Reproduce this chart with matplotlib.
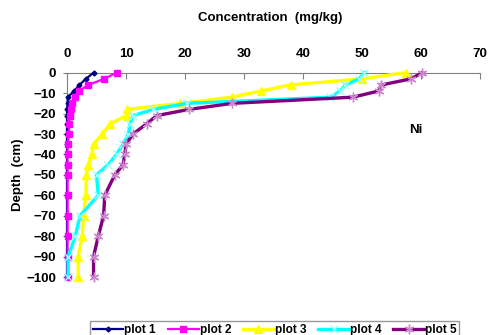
import matplotlib
matplotlib.use("Agg")
import matplotlib.pyplot as plt

plt.rcParams['font.family'] = ['Liberation Sans', 'DejaVu Sans']
plt.rcParams['font.weight'] = 'bold'

# depth below surface (cm)
depth = [0, -3, -6, -9, -12, -15, -18, -21, -25, -30, -35, -40, -45, -50,
         -60, -70, -80, -90, -100]

# Ni concentration (mg/kg) for each plot
plot1 = [4.5, 3.2, 2.1, 1.2, 0.1, 0.1, 0.0, 0.0, 0.0, 0.0, 0.0, 0.0, 0.0, 0.0,
         0.0, 0.0, 0.0, 0.0, 0.0]
plot2 = [8.4, 6.3, 3.6, 2.0, 1.3, 0.8, 0.6, 0.5, 0.4, 0.3, 0.1, 0.1, 0.1, 0.1,
         0.1, 0.1, 0.1, 0.1, 0.1]
plot3 = [57.4, 50.0, 37.9, 32.8, 27.9, 19.2, 10.1, 10.1, 7.3, 6.0, 4.5, 4.2, 3.6,
         3.3, 3.2, 2.8, 2.6, 1.9, 1.9]
plot4 = [50.4, 49.5, 47.2, 46.3, 44.6, 20.3, 14.6, 11.2, 10.7, 10.4, 9.5, 8.4,
         7.0, 5.0, 5.3, 2.2, 1.4, 0.2, 0.2]
plot5 = [60.2, 58.3, 53.3, 52.8, 48.4, 28.0, 20.6, 15.2, 13.5, 11.2, 10.0, 9.8,
         9.5, 8.1, 6.4, 6.2, 5.3, 4.5, 4.5]

labels = ['plot 1', 'plot 2', 'plot 3', 'plot 4', 'plot 5']
x_ticks = [0, 10, 20, 30, 40, 50, 60, 70]
y_ticks = [0, -10, -20, -30, -40, -50, -60, -70, -80, -90, -100]

fig = plt.figure(figsize=(4.88, 3.35), dpi=100)
ax = fig.add_axes([0.1373, 0.173, 0.8463, 0.61])

asterisk = (6, 2, 0)
styles = [
    dict(color='#000080', lw=1.6, marker='D', ms=2.5, mfc='#000080', mec='#000080'),
    dict(color='#FF00FF', lw=1.6, marker='s', ms=4.5, mfc='#FF00FF', mec='#FF00FF'),
    dict(color='#FFFF00', lw=2.4, marker='^', ms=6, mfc='#FFFF00', mec='#FFFF00'),
    dict(color='#00FFFF', lw=2.4, marker='x', ms=6, mfc='#99FFFF', mec='#99FFFF', mew=1),
    dict(color='#800080', lw=2.4, marker=asterisk, ms=7, mfc='#CC88CC', mec='#CC88CC', mew=1),
]
series = [plot1, plot2, plot3, plot4, plot5]
# plot 1 sits over plot 2 near the surface
order = [1, 0, 2, 3, 4]
handles = [None] * 5
for i in order:
    h, = ax.plot(series[i], depth, label=labels[i], clip_on=False, zorder=3 + i,
                 **styles[i])
    handles[i] = h

ax.set_xlim(0, 70)
ax.set_ylim(-100, 0)
ax.xaxis.set_ticks_position('top')
ax.xaxis.set_label_position('top')
ax.set_xticks(x_ticks)
ax.set_yticks(y_ticks)
ax.tick_params(axis='x', direction='in', length=4, pad=9, labelsize=9.5,
               color='#808080')
ax.tick_params(axis='y', direction='out', length=3, pad=5, labelsize=9.5,
               color='#808080')
for lab in ax.get_xticklabels() + ax.get_yticklabels():
    lab.set_fontweight('bold')

ax.spines['right'].set_visible(False)
ax.spines['bottom'].set_visible(False)
ax.spines['top'].set_color('#808080')
ax.spines['left'].set_color('#808080')

fig.text(0.553, 0.946, 'Concentration  (mg/kg)', ha='center', va='center',
         fontsize=9.5, fontweight='bold')
fig.text(0.037, 0.478, 'Depth  (cm)', ha='center', va='center', rotation=90,
         fontsize=9.5, fontweight='bold')
ax.text(59.2, -28, 'Ni', ha='center', va='center', fontsize=9.5, fontweight='bold')

leg = fig.legend(handles=handles, labels=labels, loc='upper center',
                 bbox_to_anchor=(0.563, 0.058), ncol=5, frameon=True,
                 fancybox=False, edgecolor='#808080',
                 handlelength=2.6, handletextpad=0.1, columnspacing=1.0,
                 borderpad=0.2, prop={'weight': 'bold', 'size': 8.5})
leg.get_frame().set_linewidth(1.0)

fig.savefig('out.png', dpi=100)
